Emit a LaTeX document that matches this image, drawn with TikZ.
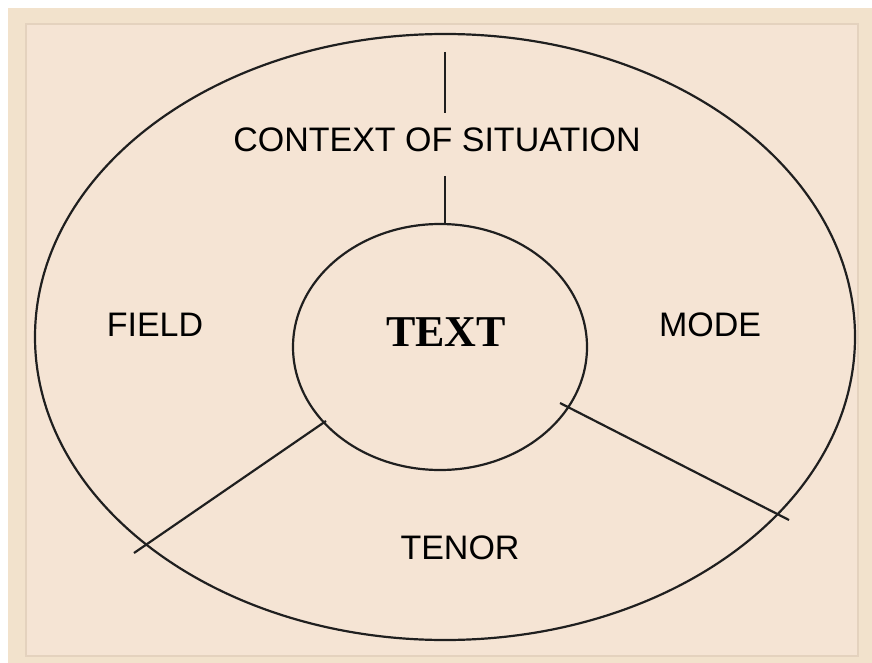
\documentclass[tikz,border=0pt]{standalone}
\usepackage{fontspec}
\setmainfont{Liberation Sans}
\newfontfamily\serifbold{Liberation Serif}
\usetikzlibrary{shapes.geometric}
\definecolor{outerbg}{HTML}{F2E2CC}
\definecolor{innerbg}{HTML}{F5E4D4}
\definecolor{frameline}{HTML}{E4D2BE}
\tikzset{
  shape line/.style={draw=black!88, line width=2.2pt},
  lbl/.style={font=\fontsize{34}{37}\selectfont, inner sep=0pt, anchor=center},
}
\begin{document}
\begin{tikzpicture}[x=1pt,y=-1pt]
\useasboundingbox (0,0) rectangle (872,663);
\fill[white] (0,0) rectangle (872,663);
\fill[outerbg] (8,8) rectangle (872,663);
\fill[innerbg, draw=frameline, line width=2pt] (26,24) rectangle (858,656);
% outer ellipse and inner circle
\node[shape line, ellipse, minimum width=820pt, minimum height=606pt, inner sep=0pt] (ctx) at (445,337) {};
\node[shape line, ellipse, minimum width=294pt, minimum height=246pt, inner sep=0pt] (core) at (440,347) {};
\coordinate (vt) at (445,52);
\coordinate (vb) at (445,113);
\coordinate (vt2) at (445,176);
\draw[shape line] (vt) -- (vb);
\draw[shape line] (vt2) -- (vt2 |- core.north);
\coordinate (l1) at (326,421);
\coordinate (l2) at (134,553);
\draw[shape line] (l1) -- (l2);
\coordinate (r1) at (560,403);
\coordinate (r2) at (789,520);
\draw[shape line] (r1) -- (r2);
\node[lbl] (context) at (437,140) {CONTEXT OF SITUATION};
\node[lbl] (field) at (155,325) {FIELD};
\node[lbl] (mode) at (710,325) {MODE};
\node[lbl] (tenor) at (460,548) {TENOR};
\node[inner sep=0pt, font=\serifbold\bfseries\fontsize{44}{47}\selectfont] (text) at (446,332) {TEXT};
\end{tikzpicture}
\end{document}
